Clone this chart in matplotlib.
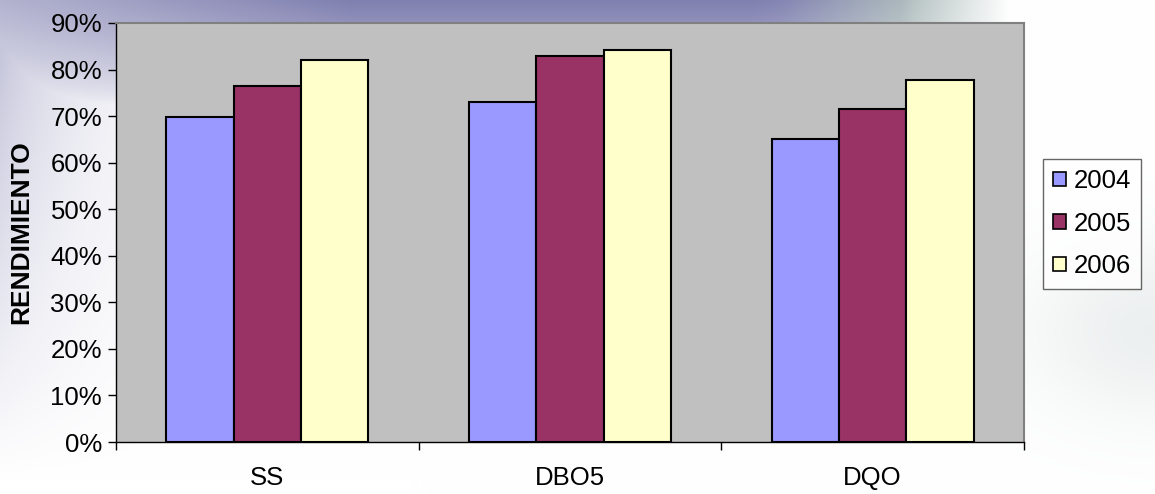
import numpy as np
import matplotlib
matplotlib.use('Agg')
import matplotlib.pyplot as plt
from matplotlib.patches import Patch

plt.rcParams['font.family'] = ['Liberation Sans', 'DejaVu Sans']

# data
categories = ['SS', 'DBO5', 'DQO']
years = ['2004', '2005', '2006']
vals_2004 = [69.8, 73.1, 65.0]
vals_2005 = [76.5, 82.9, 71.5]
vals_2006 = [82.0, 84.1, 77.7]
colors = ['#9999FF', '#993366', '#FFFFCC']

W, H = 1155, 494
fig = plt.figure(figsize=(W / 100, H / 100), dpi=100)

# slide background: purple wash at the top and left, fading to white
bg = fig.add_axes([0, 0, 1, 1], zorder=-10)
yy, xx = np.mgrid[0:H, 0:W].astype(float)
purple = np.array([0.50, 0.50, 0.69])
greyish = np.array([0.60, 0.67, 0.67])
mix = np.clip((xx - 780) / 140.0, 0, 1)[..., None]
tint = (1 - mix) * purple + mix * greyish
gx = np.interp(xx, [0, 350, 750, 900, 1010], [0.6, 1.0, 1.0, 0.8, 0.0])
top = np.clip(1 - yy / 110.0, 0, 1) ** 0.6 * gx
left = 0.5 * np.exp(-xx / 90.0) * np.clip(1.0 - yy / 480.0, 0, 1)
right = 0.18 * np.exp(-((xx - 1155) / 130.0) ** 2 - ((yy - 330) / 90.0) ** 2)
wgt = np.clip(np.maximum(np.maximum(top, left), right), 0, 1)[..., None]
img = (1 - wgt) * np.ones(3) + wgt * tint
bg.imshow(img, aspect='auto', extent=[0, 1, 0, 1])
bg.axis('off')

ax = fig.add_axes([116 / W, 1 - 442 / H, (1024 - 116) / W, (442 - 23) / H])
ax.set_facecolor('#C0C0C0')

x = np.arange(len(categories))
bw = 2 / 9
for i, (vals, c) in enumerate(zip([vals_2004, vals_2005, vals_2006], colors)):
    ax.bar(x + (i - 1) * bw, vals, width=bw, color=c, edgecolor='black',
           linewidth=1.5, zorder=3)

fs = 18.5
ax.set_xlim(-0.5, 2.5)
ax.set_ylim(0, 90)
ax.set_yticks(range(0, 91, 10))
ax.set_yticklabels([f'{v}%' for v in range(0, 91, 10)], fontsize=fs)
ax.set_xticks([-0.5, 0.5, 1.5, 2.5])
ax.set_xticklabels([])
ax.set_xticks(x, minor=True)
ax.set_xticklabels(categories, minor=True, fontsize=fs)
ax.tick_params(axis='x', which='major', direction='out', length=6, width=1, color='black')
ax.tick_params(axis='x', which='minor', length=0, pad=17)
ax.tick_params(axis='y', direction='out', length=6, width=1, pad=4, color='black')

for s in ['top', 'right']:
    ax.spines[s].set_color('#808080')
    ax.spines[s].set_linewidth(1.5)
for s in ['left', 'bottom']:
    ax.spines[s].set_color('black')
    ax.spines[s].set_linewidth(1.0)

ax.set_ylabel('RENDIMIENTO', fontsize=19, fontweight='bold')
ax.yaxis.set_label_coords(-0.0915, 0.5)

handles = [Patch(facecolor=c, edgecolor='black', linewidth=1.2) for c in colors]
leg = fig.legend(handles, years, loc='upper left',
                 bbox_to_anchor=(1043 / W, 1 - 159 / H), fontsize=fs,
                 frameon=True, fancybox=False, handlelength=0.5, handleheight=0.5,
                 handletextpad=0.3, labelspacing=0.72, borderpad=0.4,
                 borderaxespad=0)
leg.get_frame().set_edgecolor('#404040')
leg.get_frame().set_facecolor('white')
leg.get_frame().set_linewidth(1.0)

fig.savefig('out.png', dpi=100)
